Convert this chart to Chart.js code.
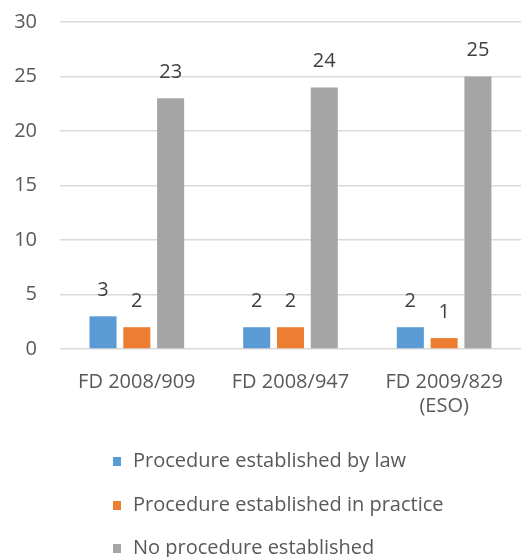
<!DOCTYPE html>
<html>
<head>
<meta charset="utf-8">
<script src="https://cdn.jsdelivr.net/npm/chart.js@4"></script>
<style>
  html, body { margin: 0; padding: 0; background: #ffffff; }
  #wrap { width: 524px; height: 557px; }
</style>
</head>
<body>
<div id="wrap"><canvas id="barChart" width="524" height="557"></canvas></div>
<script>
var categories = [["FD 2008/909"], ["FD 2008/947"], ["FD 2009/829", "(ESO)"]];
var seriesNames = ["Procedure established by law", "Procedure established in practice", "No procedure established"];
var byLaw = [3, 2, 2];
var inPractice = [2, 2, 1];
var noProcedure = [23, 24, 25];
var yTicks = [0, 5, 10, 15, 20, 25, 30];
var colors = ["#5B9BD5", "#ED7D31", "#A5A5A5"];

var FONT = "'Open Sans', 'Noto Sans', sans-serif";
var TEXT = "#595959";

// value labels above each bar
var valueLabels = {
    id: "valueLabels",
    afterDatasetsDraw: function (chart) {
        var ctx = chart.ctx;
        ctx.save();
        ctx.font = "20px " + FONT;
        ctx.fillStyle = "#404040";
        ctx.textAlign = "center";
        ctx.textBaseline = "middle";
        chart.data.datasets.forEach(function (ds, i) {
            var meta = chart.getDatasetMeta(i);
            meta.data.forEach(function (bar, j) {
                ctx.fillText(String(ds.data[j]), bar.x, bar.y - 26);
            });
        });
        ctx.restore();
    }
};

// vertical legend under the axis, one entry per row
var stackedLegend = {
    id: "stackedLegend",
    afterDraw: function (chart) {
        var ctx = chart.ctx;
        var rows = [461, 505, 548];
        ctx.save();
        ctx.font = "20px " + FONT;
        ctx.textBaseline = "middle";
        ctx.textAlign = "left";
        chart.data.datasets.forEach(function (ds, i) {
            ctx.fillStyle = ds.backgroundColor;
            ctx.fillRect(113, rows[i] - 4, 8, 9);
            ctx.fillStyle = TEXT;
            ctx.fillText(ds.label, 133, rows[i]);
        });
        ctx.restore();
    }
};

function createChart() {
    var chart = document.getElementById("barChart");
    var data = [byLaw, inPractice, noProcedure];

    new Chart(chart, {
        type: "bar",
        data: {
            labels: categories,
            datasets: seriesNames.map(function (name, i) {
                return {
                    label: name,
                    data: data[i],
                    backgroundColor: colors[i],
                    borderWidth: 0,
                    barPercentage: 0.8,
                    categoryPercentage: 0.66
                };
            })
        },
        options: {
            responsive: false,
            animation: false,
            layout: { padding: { top: 22, right: 1, bottom: 120, left: 0 } },
            plugins: {
                legend: { display: false },
                tooltip: { enabled: false }
            },
            scales: {
                x: {
                    grid: { display: false, drawTicks: false },
                    border: { display: false },
                    ticks: {
                        color: TEXT,
                        padding: 21,
                        font: { family: FONT, size: 20, lineHeight: 1.2 }
                    },
                    afterFit: function (scale) { scale.height = 88; }
                },
                y: {
                    min: 0,
                    max: 30,
                    afterBuildTicks: function (scale) {
                        scale.ticks = yTicks.map(function (v) { return { value: v }; });
                    },
                    grid: { color: "#D9D9D9", lineWidth: 1.5, drawTicks: false },
                    border: { display: false },
                    ticks: {
                        color: TEXT,
                        padding: 23,
                        font: { family: FONT, size: 20 }
                    },
                    afterFit: function (scale) {
                        scale.width = 60;
                        scale.paddingTop = 0;
                        scale.paddingBottom = 0;
                    }
                }
            }
        },
        plugins: [valueLabels, stackedLegend]
    });
}

createChart();
</script>
</body>
</html>
